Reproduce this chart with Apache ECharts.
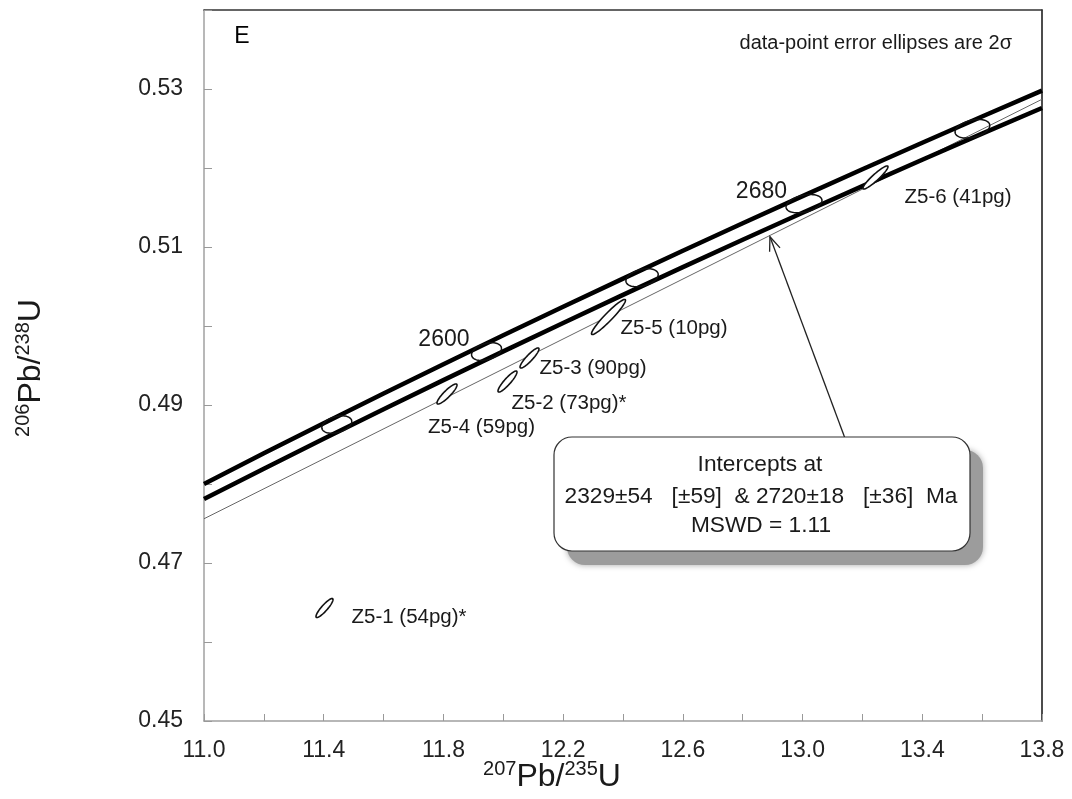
<!DOCTYPE html>
<html>
<head>
<meta charset="utf-8">
<script src="https://cdn.jsdelivr.net/npm/echarts@6/dist/echarts.min.js"></script>
<style>
html,body{margin:0;padding:0;background:#fff;}
#chart{width:1072px;height:799px;}
</style>
</head>
<body>
<div id="chart"></div>
<script>
// ---------- data ----------
const xTickLabels = ['11.0','11.4','11.8','12.2','12.6','13.0','13.4','13.8'];
const yTickLabels = ['0.45','0.47','0.49','0.51','0.53'];

// concordia error band (two thick curves)
const bandX     = [11.0, 11.2, 11.4, 11.6, 11.8, 12.0, 12.2, 12.4, 12.6, 12.8, 13.0, 13.2, 13.4, 13.6, 13.8];
const bandUpper = [0.48000, 0.48388, 0.48770, 0.49146, 0.49517, 0.49882, 0.50243, 0.50600, 0.50952, 0.51300, 0.51644, 0.51984, 0.52320, 0.52652, 0.52980];
const bandLower = [0.47810, 0.48192, 0.48572, 0.48946, 0.49315, 0.49679, 0.50039, 0.50394, 0.50745, 0.51091, 0.51433, 0.51771, 0.52105, 0.52435, 0.52760];

// discordia (thin line)
const discordiaX = [11.0, 13.8];
const discordiaY = [0.4756, 0.5287];

// concordia age markers
const ageLabels = ['', '2600', '', '2680', ''];
const ageX    = [11.4437, 11.9440, 12.4637, 13.0048, 13.5675];
const ageY    = [0.48753, 0.49676, 0.50611, 0.51548, 0.52497];
const ageErrX = [0.050, 0.050, 0.054, 0.060, 0.058];
const ageErrY = [0.00110, 0.00112, 0.00114, 0.00116, 0.00118];
const ageRho  = [0.35, 0.35, 0.35, 0.35, 0.35];

// data-point error ellipses
const spotNames = ['Z5-1 (54pg)*', 'Z5-4 (59pg)', 'Z5-2 (73pg)*', 'Z5-3 (90pg)', 'Z5-5 (10pg)', 'Z5-6 (41pg)'];
const spotX    = [11.4026, 11.8119, 12.0140, 12.0876, 12.3515, 13.2436];
const spotY    = [0.46430, 0.49139, 0.49297, 0.49595, 0.50114, 0.51880];
const spotErrX = [0.0284, 0.0334, 0.0317, 0.0317, 0.0568, 0.0418];
const spotErrY = [0.00120, 0.00127, 0.00133, 0.00127, 0.00222, 0.00146];
const spotRho  = [0.89, 0.89, 0.90, 0.90, 0.95, 0.93];

// arrow from the intercept box to the discordia
const arrowFrom = [13.1417, 0.4858];
const arrowTo   = [12.891, 0.5113];

// ---------- layout / style (not data) ----------
const FONT = "'Liberation Sans', Arial, sans-serif";
const spotLabelOffset = [[27, 9], [-19, 33], [4, 22], [10, 10], [12, 11], [29, 20]];
const ageLabelOffset = [-17, -12];

function ellipsePoints(api, cx, cy, sx, sy, rho) {
  const pts = [];
  const n = 72, k = Math.sqrt(1 - rho * rho);
  for (let i = 0; i <= n; i++) {
    const t = 2 * Math.PI * i / n;
    const x = cx + sx * Math.cos(t);
    const y = cy + sy * (rho * Math.cos(t) + k * Math.sin(t));
    pts.push(api.coord([x, y]));
  }
  return pts;
}

const chart = echarts.init(document.getElementById('chart'), null, {renderer: 'canvas'});

const option = {
  backgroundColor: '#ffffff',
  animation: false,
  grid: {left: 204, right: 30, top: 10, bottom: 78},
  xAxis: [{
    type: 'value', min: 11, max: 13.8, interval: 0.2,
    axisLine: {lineStyle: {color: '#a0a0a0', width: 1.5}},
    axisTick: {inside: true, length: 7, lineStyle: {color: '#999'}},
    splitLine: {show: false},
    axisLabel: {
      margin: 18, fontSize: 23, fontFamily: FONT, color: '#222',
      formatter: v => { const s = (+v).toFixed(1); return xTickLabels.includes(s) ? s : ''; }
    }
  }, {
    type: 'value', position: 'top', min: 11, max: 13.8,
    axisLine: {show: true, lineStyle: {color: '#333', width: 1.5}},
    axisTick: {show: false}, axisLabel: {show: false}, splitLine: {show: false}
  }],
  yAxis: [{
    type: 'value', min: 0.45, max: 0.54, interval: 0.01,
    axisLine: {show: true, lineStyle: {color: '#a0a0a0', width: 1.5}},
    axisTick: {show: true, inside: true, length: 8, lineStyle: {color: '#999'}},
    splitLine: {show: false},
    axisLabel: {
      margin: 21, fontSize: 23, fontFamily: FONT, color: '#222',
      formatter: v => { const s = (+v).toFixed(2); return yTickLabels.includes(s) ? s : ''; }
    }
  }, {
    type: 'value', position: 'right', min: 0.45, max: 0.54,
    axisLine: {show: true, lineStyle: {color: '#111', width: 1.5}},
    axisTick: {show: false}, axisLabel: {show: false}, splitLine: {show: false}
  }],
  series: [
    {
      type: 'line', name: 'discordia', data: discordiaX.map((x, i) => [x, discordiaY[i]]),
      symbol: 'none', lineStyle: {color: '#666', width: 1}, z: 2
    },
    {
      type: 'line', name: 'band upper', data: bandX.map((x, i) => [x, bandUpper[i]]),
      symbol: 'none', lineStyle: {color: '#000', width: 4.5}, z: 3
    },
    {
      type: 'line', name: 'band lower', data: bandX.map((x, i) => [x, bandLower[i]]),
      symbol: 'none', lineStyle: {color: '#000', width: 4.5}, z: 3
    },
    {
      type: 'custom', name: 'ages', z: 4,
      data: ageX.map((x, i) => [x, ageY[i], ageErrX[i], ageErrY[i], ageRho[i]]),
      renderItem: (params, api) => {
        const cx = api.value(0), cy = api.value(1);
        const pts = ellipsePoints(api, cx, cy, api.value(2), api.value(3), api.value(4));
        const c = api.coord([cx, cy]);
        const children = [{
          type: 'polygon', shape: {points: pts},
          style: {fill: 'none', stroke: '#111', lineWidth: 1.5}
        }];
        const lab = ageLabels[params.dataIndex];
        if (lab) {
          children.push({
            type: 'text', x: c[0] + ageLabelOffset[0], y: c[1] + ageLabelOffset[1],
            style: {text: lab, font: '23px ' + FONT, fill: '#1a1a1a', align: 'right', verticalAlign: 'middle'}
          });
        }
        return {type: 'group', children};
      }
    },
    {
      type: 'custom', name: 'spots', z: 5,
      data: spotX.map((x, i) => [x, spotY[i], spotErrX[i], spotErrY[i], spotRho[i]]),
      renderItem: (params, api) => {
        const cx = api.value(0), cy = api.value(1);
        const pts = ellipsePoints(api, cx, cy, api.value(2), api.value(3), api.value(4));
        const c = api.coord([cx, cy]);
        const off = spotLabelOffset[params.dataIndex];
        return {type: 'group', children: [
          {type: 'polygon', shape: {points: pts}, style: {fill: '#fff', stroke: '#111', lineWidth: 1.6}},
          {type: 'text', x: c[0] + off[0], y: c[1] + off[1],
           style: {text: spotNames[params.dataIndex], font: '20.5px ' + FONT, fill: '#1a1a1a', align: 'left', verticalAlign: 'middle'}}
        ]};
      }
    },
    {
      type: 'custom', name: 'arrow', z: 6,
      data: [[arrowFrom[0], arrowFrom[1], arrowTo[0], arrowTo[1]]],
      renderItem: (params, api) => {
        const p1 = api.coord([api.value(0), api.value(1)]);
        const p2 = api.coord([api.value(2), api.value(3)]);
        const a = Math.atan2(p2[1] - p1[1], p2[0] - p1[0]);
        const L = 15, w = 0.38;
        const h1 = [p2[0] - L * Math.cos(a - w), p2[1] - L * Math.sin(a - w)];
        const h2 = [p2[0] - L * Math.cos(a + w), p2[1] - L * Math.sin(a + w)];
        return {type: 'group', children: [
          {type: 'line', shape: {x1: p1[0], y1: p1[1], x2: p2[0], y2: p2[1]}, style: {stroke: '#222', lineWidth: 1.3}},
          {type: 'polyline', shape: {points: [h1, p2, h2]}, style: {stroke: '#222', lineWidth: 1.3, fill: 'none'}}
        ]};
      }
    }
  ],
  graphic: [
    {type: 'text', x: 242, y: 37, z: 10,
     style: {text: 'E', font: '23px ' + FONT, fill: '#000', align: 'center', verticalAlign: 'middle'}},
    {type: 'text', x: 1012, y: 43, z: 10,
     style: {text: 'data-point error ellipses are 2σ', font: '20px ' + FONT, fill: '#1a1a1a', align: 'right', verticalAlign: 'middle'}},
    // intercept box with shadow
    {type: 'rect', z: 8, shape: {x: 567, y: 450, width: 416, height: 115, r: 18},
     style: {fill: '#9c9c9c', shadowBlur: 6, shadowColor: 'rgba(0,0,0,0.35)'}},
    {type: 'rect', z: 9, shape: {x: 554, y: 437, width: 416, height: 114, r: 18},
     style: {fill: '#fff', stroke: '#333', lineWidth: 1.2}},
    {type: 'text', x: 760, y: 465, z: 10,
     style: {text: 'Intercepts at', font: '22.7px ' + FONT, fill: '#1a1a1a', align: 'center', verticalAlign: 'middle'}},
    {type: 'text', x: 761, y: 497, z: 10,
     style: {text: '2329±54   [±59]  & 2720±18   [±36]  Ma', font: '22.7px ' + FONT, fill: '#1a1a1a', align: 'center', verticalAlign: 'middle'}},
    {type: 'text', x: 761, y: 526, z: 10,
     style: {text: 'MSWD = 1.11', font: '22.7px ' + FONT, fill: '#1a1a1a', align: 'center', verticalAlign: 'middle'}},
    // axis titles
    {type: 'text', x: 552, y: 776, z: 10,
     style: {
       text: '{s|207}{b|Pb/}{s|235}{b|U}', align: 'center', verticalAlign: 'middle',
       rich: {
         s: {fontSize: 20, fontFamily: FONT, fill: '#1a1a1a', verticalAlign: 'top', lineHeight: 34},
         b: {fontSize: 32, fontFamily: FONT, fill: '#1a1a1a', verticalAlign: 'bottom', lineHeight: 34}
       }
     }},
    {type: 'text', x: 30, y: 368, z: 10, rotation: Math.PI / 2,
     style: {
       text: '{s|206}{b|Pb/}{s|238}{b|U}', align: 'center', verticalAlign: 'middle',
       rich: {
         s: {fontSize: 20, fontFamily: FONT, fill: '#1a1a1a', verticalAlign: 'top', lineHeight: 34},
         b: {fontSize: 32, fontFamily: FONT, fill: '#1a1a1a', verticalAlign: 'bottom', lineHeight: 34}
       }
     }}
  ]
};
chart.setOption(option);
</script>
</body>
</html>
